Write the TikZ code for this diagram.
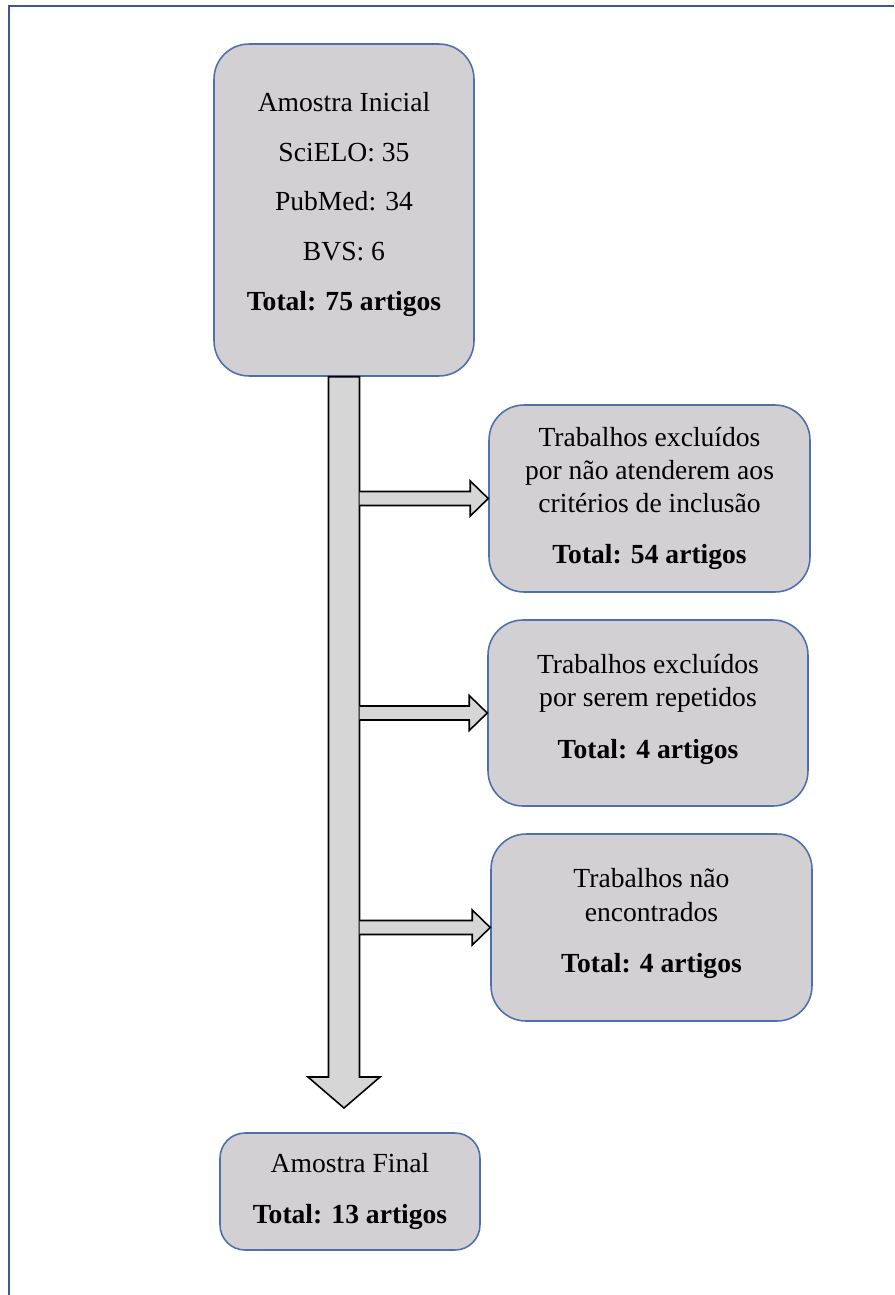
\documentclass[tikz,border=0pt]{standalone}
\usepackage{fontspec}
\setmainfont{Liberation Serif}
\usepackage{xcolor}
\usetikzlibrary{positioning, calc}

\definecolor{boxgray}{RGB}{210,208,211}
\definecolor{boxblue}{RGB}{78,112,172}
\definecolor{frameblue}{RGB}{58,88,148}

\tikzset{
  stagebox/.style={rectangle, rounded corners=0.7cm, draw=boxblue, line width=0.9pt,
    fill=boxgray, align=center, font=\fontsize{15.7}{18.8}\selectfont, inner sep=0pt},
  blockarrow/.style={draw=black, line width=0.9pt, fill=black!16, line join=miter}
}

\begin{document}
\begin{tikzpicture}[x=0.02cm, y=-0.02cm]
        \useasboundingbox (0,0) rectangle (894,1295);

        % Frame (only left and top edges show)
        \draw[frameblue, line width=1.7pt] (9,1295) -- (9,6) -- (894,6);

        % Stages
        \node[stagebox, minimum width=5.2cm, minimum height=6.64cm] (initial) at (344,210)
          {Amostra Inicial\\[9.5pt] SciELO: 35\\[9.5pt] PubMed: 34\\[9.5pt] BVS: 6\\[9.5pt] \textbf{Total: 75 artigos}\\[-9pt]};
        \node[stagebox, minimum width=6.42cm, minimum height=3.74cm] (excl1) at (649.5,498.5)
          {Trabalhos excluídos\\ por não atenderem aos\\ critérios de inclusão\\[10.5pt] \textbf{Total: 54 artigos}};
        \node[stagebox, minimum width=6.4cm, minimum height=3.72cm] (excl2) at (648,713)
          {Trabalhos excluídos\\ por serem repetidos\\[10.5pt] \textbf{Total: 4 artigos}\\[-11pt]};
        \node[stagebox, minimum width=6.42cm, minimum height=3.74cm] (excl3) at (651.5,927.5)
          {Trabalhos não\\ encontrados\\[10.5pt] \textbf{Total: 4 artigos}\\[-11pt]};
        \node[stagebox, rounded corners=0.5cm, minimum width=5.2cm, minimum height=2.34cm] (final) at (350,1191.5)
          {Amostra Final\\[10.5pt] \textbf{Total: 13 artigos}};

        % Main flow arrow
        \coordinate (tip) at (344,1108);
        \coordinate (sr) at ($(initial.south)+(15.5,0)$);
        \draw[blockarrow] ($(initial.south)+(-15.5,0)$) -- ($(tip)+(-15.5,-31)$) -- ($(tip)+(-36,-31)$)
          -- (tip) -- ($(tip)+(36,-31)$) -- ($(tip)+(15.5,-31)$) -- (sr) -- cycle;

        % Exclusion arrows
        \foreach \b in {excl1, excl2, excl3} {
          \filldraw[blockarrow] ($(sr |- \b.west)+(0,-7)$) -- ($(\b.west)+(-18,-7)$) -- ($(\b.west)+(-18,-17.5)$)
            -- (\b.west) -- ($(\b.west)+(-18,17.5)$) -- ($(\b.west)+(-18,7)$) -- ($(sr |- \b.west)+(0,7)$);
        }
      \end{tikzpicture}
\end{document}
